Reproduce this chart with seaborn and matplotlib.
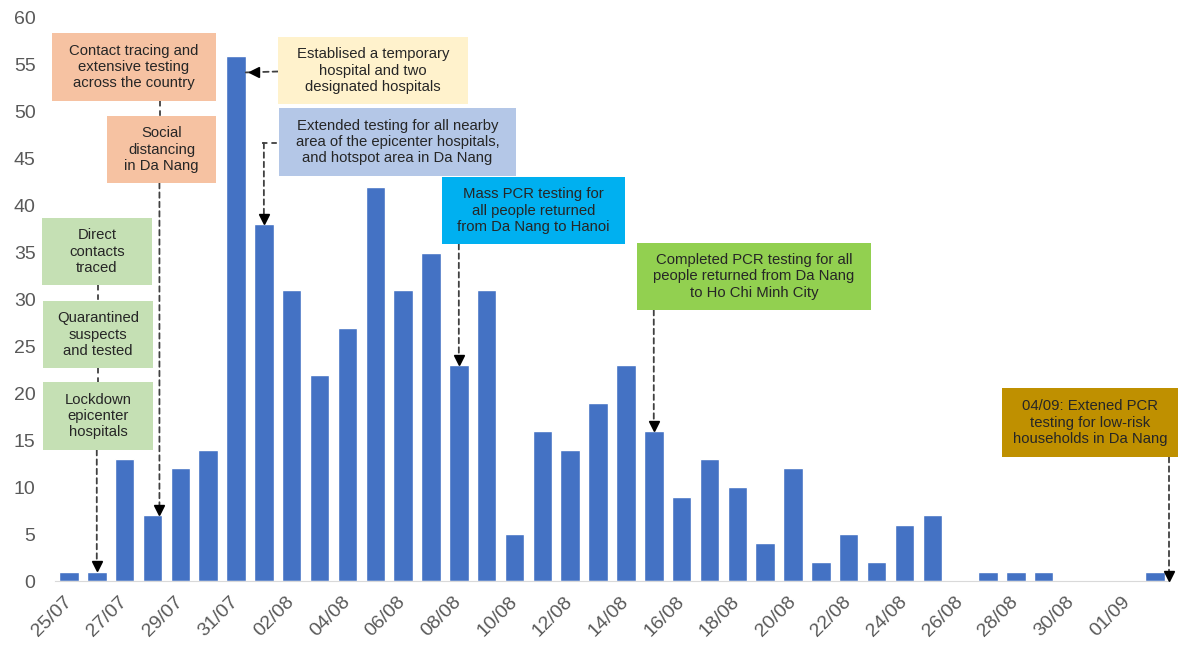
import numpy as np
import pandas as pd
import seaborn as sns
import matplotlib.pyplot as plt
from matplotlib.patches import Rectangle

sns.set_style("white")
plt.rcParams['font.family'] = ['Liberation Sans', 'DejaVu Sans']

# daily new cases 25/07 - 02/09
days = ['25/07', '26/07', '27/07', '28/07', '29/07', '30/07', '31/07',
        '01/08', '02/08', '03/08', '04/08', '05/08', '06/08', '07/08', '08/08',
        '09/08', '10/08', '11/08', '12/08', '13/08', '14/08', '15/08', '16/08',
        '17/08', '18/08', '19/08', '20/08', '21/08', '22/08', '23/08', '24/08',
        '25/08', '26/08', '27/08', '28/08', '29/08', '30/08', '31/08',
        '01/09', '02/09']
cases = [1, 1, 13, 7, 12, 14, 56,
         38, 31, 22, 27, 42, 31, 35, 23,
         31, 5, 16, 14, 19, 23, 16, 9,
         13, 10, 4, 12, 2, 5, 2, 6,
         7, 0, 1, 1, 1, 0, 0,
         0, 1]

df = pd.DataFrame({"day": days, "cases": cases})

W, H = 1178, 652
fig = plt.figure(figsize=(W / 100, H / 100), dpi=100)
ax = fig.add_axes([55 / W, 1 - 581 / H, 1114 / W, 563 / H])

sns.barplot(data=df, x="day", y="cases", order=days, color="#4472C4",
            saturation=1, width=0.7, ax=ax)

ax.set_xlim(-0.5, len(days) - 0.5)
ax.set_ylim(0, 60)
ax.set_yticks(range(0, 61, 5))
ax.set_xlabel("")
ax.set_ylabel("")
for s in ["top", "right", "left"]:
    ax.spines[s].set_visible(False)
ax.spines["bottom"].set_color("#d9d9d9")
ax.tick_params(axis="y", length=0, labelsize=14, labelcolor="#595959", pad=14)

# labels under every 2nd bar, tick marks on the category borders
ax.set_xticks(range(0, len(days), 2))
ax.set_xticklabels(days[::2], rotation=45, ha="right", va="center",
                   rotation_mode="anchor")
ax.set_xticks(np.arange(-0.5, len(days), 2), minor=True)
ax.tick_params(axis="x", which="major", length=0, labelsize=14,
               labelcolor="#595959", pad=13)
ax.tick_params(axis="x", which="minor", length=5, color="#d0d0d0", width=1)


def fx(x):
    return x / W


def fy(y):
    return 1 - y / H


def box(x0, y0, x1, y1, text, color, tcolor="#262626"):
    fig.patches.append(Rectangle((fx(x0), fy(y1)), fx(x1 - x0), (y1 - y0) / H,
                                 transform=fig.transFigure, facecolor=color,
                                 edgecolor="none", zorder=5))
    fig.text(fx((x0 + x1) / 2), fy((y0 + y1) / 2), text, ha="center",
             va="center", fontsize=10.7, color=tcolor, linespacing=1.2,
             zorder=6)


line_kw = dict(color="#404040", lw=1.3, ls=(0, (3, 2.2)), zorder=4)


def link(x_px, y0, y1):
    fig.add_artist(plt.Line2D([fx(x_px), fx(x_px)], [fy(y0), fy(y1)],
                              transform=fig.transFigure, **line_kw))


def drop(idx, y_px, value):
    # dashed line from a box down to the top of a bar
    ax.annotate("", xy=(idx, value + 0.9), xycoords="data",
                xytext=(idx, fy(y_px)), textcoords=("data", "figure fraction"),
                arrowprops=dict(arrowstyle="-", color="#404040", lw=1.3,
                                ls=(0, (3, 2.2)), shrinkA=0, shrinkB=0),
                zorder=4)
    ax.plot(idx, value + 0.55, marker="v", color="black", markersize=7,
            clip_on=False, zorder=7)


box(52, 33, 216, 101, "Contact tracing and\nextensive testing\nacross the country", "#F6C2A2")
box(107, 116, 216, 183, "Social\ndistancing\nin Da Nang", "#F6C2A2")
link(160, 101, 116)
drop(3.25, 183, cases[3])

box(42, 218, 152, 285, "Direct\ncontacts\ntraced", "#C5E0B4")
box(43, 301, 153, 368, "Quarantined\nsuspects\nand tested", "#C5E0B4")
box(43, 382, 153, 450, "Lockdown\nepicenter\nhospitals", "#C5E0B4")
link(97.5, 285, 301)
link(97.5, 368, 382)
drop(1, 450, cases[1])

box(278, 37, 468, 104, "Establised a temporary\nhospital and two\ndesignated hospitals", "#FFF2CC")
ax.annotate("", xy=(6.35, 54.2), xycoords="data",
            xytext=(fx(278), fy(71.5)), textcoords="figure fraction",
            arrowprops=dict(arrowstyle="-", color="#404040", lw=1.3,
                            ls=(0, (3, 2.2)), shrinkA=0, shrinkB=0), zorder=4)
ax.plot(6.35 + 0.3, 54.2, marker="<", color="black", markersize=7,
        clip_on=False, zorder=7)

box(279, 108, 516, 176, "Extended testing for all nearby\narea of the epicenter hospitals,\nand hotspot area in Da Nang", "#B4C7E7")
fig.add_artist(plt.Line2D([fx(262), fx(279)], [fy(143), fy(143)],
                          transform=fig.transFigure, **line_kw))
drop(7, 143, cases[7])

box(442, 177, 625, 244, "Mass PCR testing for\nall people returned\nfrom Da Nang to Hanoi", "#00B0F0")
drop(14, 244, cases[14])

box(637, 243, 871, 310, "Completed PCR testing for all\npeople returned from Da Nang\nto Ho Chi Minh City", "#92D050")
drop(21, 310, cases[21])

box(1002, 388, 1178, 457, "04/09: Extened PCR\ntesting for low-risk\nhouseholds in Da Nang", "#BF9000")
drop(39.5, 457, 0)

fig.savefig("out.png", dpi=100)
